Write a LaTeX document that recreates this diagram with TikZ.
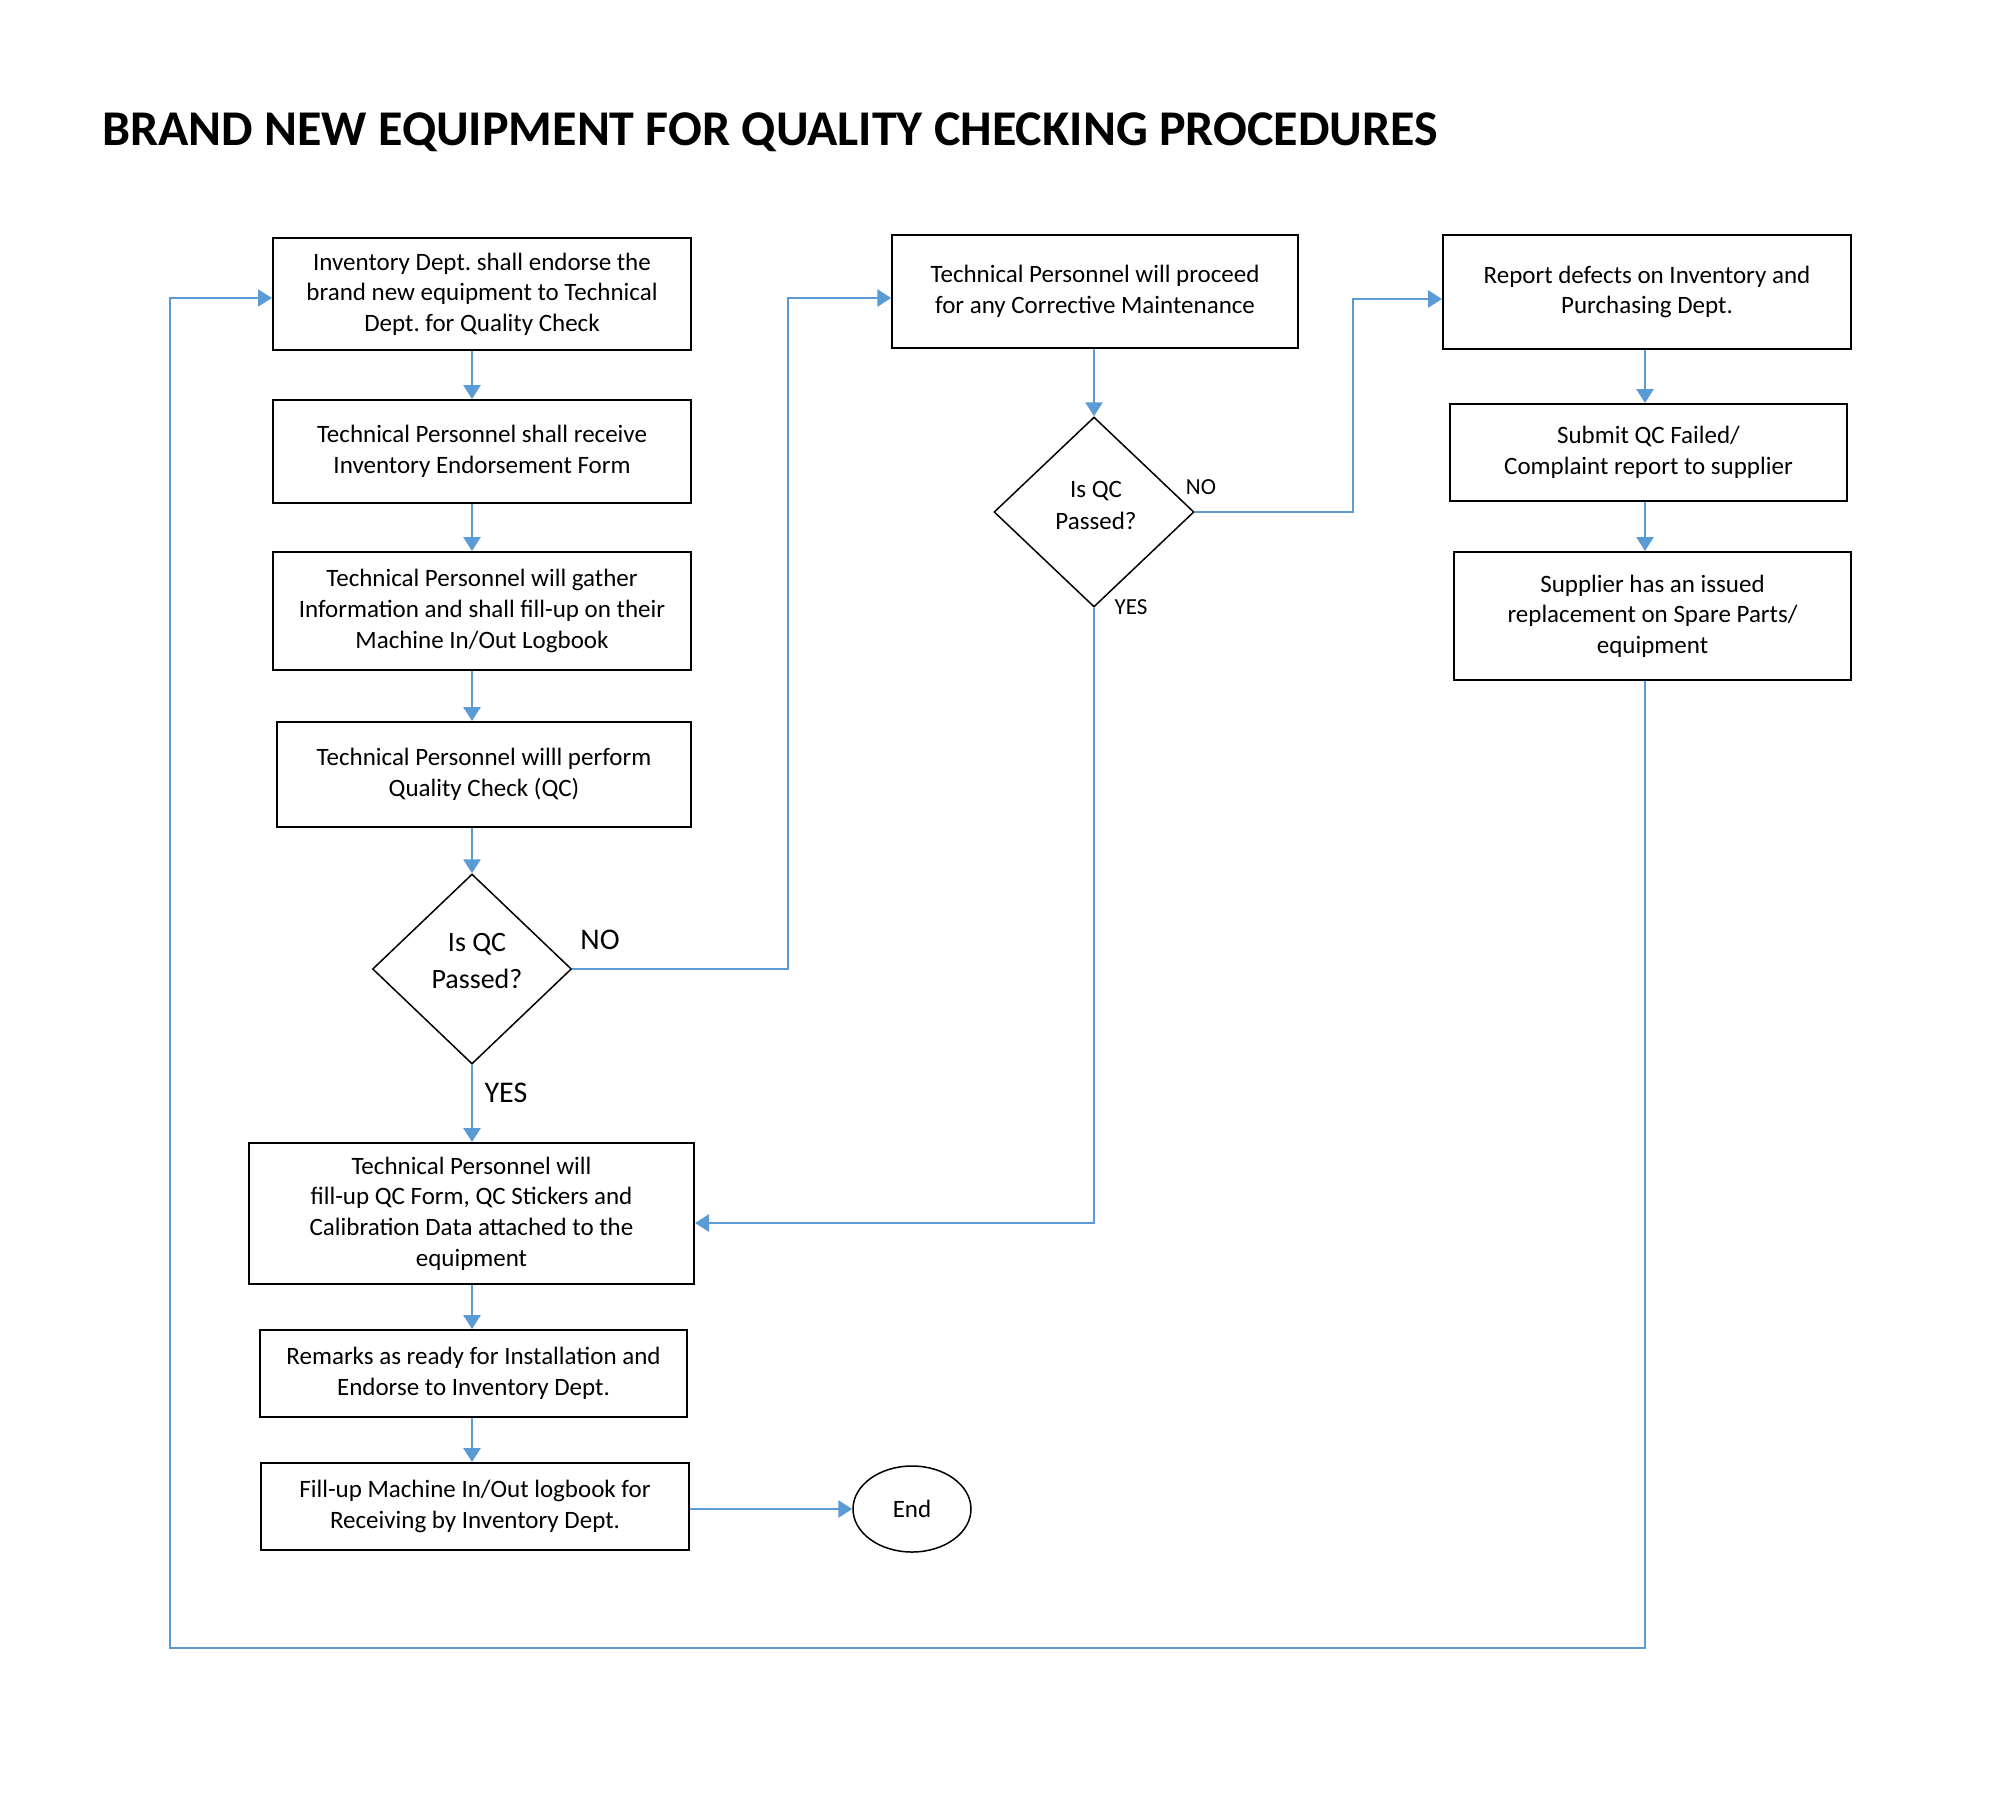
\documentclass[tikz,border=0pt]{standalone}
\usepackage{fontspec}
\setmainfont{Carlito}
\frenchspacing
\usetikzlibrary{arrows.meta,shapes.geometric}
\definecolor{flowblue}{HTML}{5B9BD5}
\tikzset{
  procbox/.style={draw=black,line width=2pt,rectangle,inner sep=0pt,align=center,
     font=\fontsize{25}{30.6}\selectfont},
  decbox/.style={draw=black,line width=1.5pt,diamond,inner sep=0pt,aspect=1},
  arr/.style={draw=flowblue,line width=2.8pt,-{Triangle[length=14pt,width=17pt]}},
  thinarr/.style={draw=flowblue,line width=1.6pt,-{Triangle[length=14pt,width=17pt]}},
  lbl/.style={inner sep=0pt,align=center}
}
\begin{document}
\begin{tikzpicture}[x=1pt,y=-1pt]
\useasboundingbox[fill=white] (0,0) rectangle (2000,1800);
\node[lbl,anchor=base west,font=\fontsize{50}{60}\selectfont\bfseries] (title) at (102,145) {BRAND NEW EQUIPMENT FOR QUALITY CHECKING PROCEDURES};

% left column
\node[procbox,minimum width=418pt,minimum height=112pt] (b1) at (482,294) {Inventory Dept. shall endorse the\\brand new equipment to Technical\\Dept. for Quality Check};
\node[procbox,minimum width=418pt,minimum height=103pt] (b2) at (482,451.5) {Technical Personnel shall receive\\Inventory Endorsement Form};
\node[procbox,minimum width=418pt,minimum height=118pt] (b3) at (482,611) {Technical Personnel will gather\\Information and shall fill-up on their\\Machine In/Out Logbook};
\node[procbox,minimum width=414pt,minimum height=105pt] (b4) at (484,774.5) {Technical Personnel willl perform\\Quality Check (QC)};
\node[decbox,minimum width=199pt,minimum height=190pt] (d1) at (472,969) {};
\node[lbl,font=\fontsize{28}{37}\selectfont] (d1txt) at (477,961) {Is QC\\Passed?};
\node[procbox,minimum width=445pt,minimum height=141pt] (b5) at (471.5,1213.5) {Technical Personnel will\\fill-up QC Form, QC Stickers and\\Calibration Data attached to the\\equipment};
\node[procbox,minimum width=427pt,minimum height=87pt] (b6) at (473.5,1373.5) {Remarks as ready for Installation and\\Endorse to Inventory Dept.};
\node[procbox,minimum width=428pt,minimum height=87pt] (b7) at (475,1506.5) {Fill-up Machine In/Out logbook for\\Receiving by Inventory Dept.};
\node[draw=black,line width=1.5pt,ellipse,inner sep=0pt,minimum width=118pt,minimum height=86pt,font=\fontsize{25}{30}\selectfont] (end) at (912,1509) {End};

% middle column
\node[procbox,line width=1.5pt,minimum width=406pt,minimum height=113pt] (m1) at (1095,291.5) {Technical Personnel will proceed\\for any Corrective Maintenance};
\node[decbox,minimum width=200pt,minimum height=190pt] (d2) at (1094,512) {};
\node[lbl,font=\fontsize{25}{32}\selectfont] (d2txt) at (1096,505) {Is QC\\Passed?};

% right column
\node[procbox,minimum width=408pt,minimum height=114pt] (r1) at (1647,292) {Report defects on Inventory and\\Purchasing Dept.};
\node[procbox,minimum width=397pt,minimum height=97pt] (r2) at (1648.5,452.5) {Submit QC Failed/\\Complaint report to supplier};
\node[procbox,minimum width=397pt,minimum height=128pt] (r3) at (1652.5,616) {Supplier has an issued\\replacement on Spare Parts/\\equipment};

% labels
\node[lbl,font=\fontsize{30}{36}\selectfont] (no1) at (600,940) {NO};
\node[lbl,font=\fontsize{30}{36}\selectfont] (yes1) at (506,1093) {YES};
\node[lbl,font=\fontsize{23}{28}\selectfont] (no2) at (1201,487) {NO};
\node[lbl,font=\fontsize{23}{28}\selectfont] (yes2) at (1131,607) {YES};

% helper coordinates
\coordinate (k1) at (788,298);
\coordinate (k2) at (1353,299);
\coordinate (k3) at (1094,1223);
\coordinate (k4) at (1645,1648);
\coordinate (k5) at (170,298);

% connectors left column
\draw[arr] (b1.south -| d1) -- (b2.north -| d1);
\draw[arr] (b2.south -| d1) -- (b3.north -| d1);
\draw[arr] (b3.south -| d1) -- (b4.north -| d1);
\draw[arr] (b4.south -| d1) -- (d1.north);
\draw[arr] (d1.south) -- (b5.north -| d1);
\draw[arr] (b5.south -| d1) -- (b6.north -| d1);
\draw[arr] (b6.south -| d1) -- (b7.north -| d1);
\draw[arr] (b7.east |- end.west) -- (end.west);

% NO from d1 to m1
\draw[arr] (d1.east) -| (k1) -- (k1 -| m1.west);
\draw[arr] (m1.south -| d2) -- (d2.north);
% NO from d2 to r1
\draw[arr] (d2.east) -| (k2) -- (k2 -| r1.west);
% YES from d2 to b5
\draw[arr] (d2.south) -- (d2.south |- k3) -- (k3 -| b5.east);
% right column
\draw[arr] (r1.south -| k4) -- (r2.north -| k4);
\draw[arr] (r2.south -| k4) -- (r3.north -| k4);
% loop back
\draw[thinarr] (r3.south -| k4) -- (k4) -| (k5) -- (k5 -| b1.west);
\end{tikzpicture}
\end{document}
